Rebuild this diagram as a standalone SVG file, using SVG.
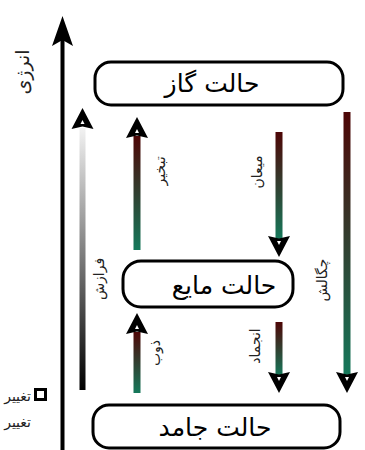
<svg xmlns="http://www.w3.org/2000/svg" width="365" height="450" viewBox="0 0 365 450">
  <defs>
    <linearGradient id="heat" x1="0" y1="0" x2="0" y2="1">
      <stop offset="0" stop-color="#4e0606"/>
      <stop offset="1" stop-color="#15795b"/>
    </linearGradient>
    <linearGradient id="gray" x1="0" y1="0" x2="0" y2="1">
      <stop offset="0" stop-color="#f2f2f2"/>
      <stop offset="1" stop-color="#000000"/>
    </linearGradient>
    <!-- arrowhead pointing up, tip at origin, with a small hole -->
    <path id="headUp" fill-rule="evenodd" d="M0,0 L11,21 L0,18.5 L-11,21 Z M0,12 L2,16 L-2,16 Z"/>
    <style>
      .state { fill: #ffffff; stroke: #000000; stroke-width: 3; }
      .stateText { font-family: "DejaVu Sans", sans-serif; font-size: 25px; fill: #000000; text-anchor: middle; }
      .lbl { font-family: "DejaVu Sans", sans-serif; font-size: 14px; fill: #222222; text-anchor: middle; }
      .legend { font-family: "DejaVu Sans", sans-serif; font-size: 14px; fill: #222222; text-anchor: end; }
      .head { fill: #000000; }
    </style>
  </defs>

  <rect width="365" height="450" fill="#ffffff"/>

  <!-- energy axis -->
  <g id="energy-axis">
    <rect x="60.5" y="40" width="4" height="410" fill="#000000"/>
    <path d="M62.5,16 L73,46 L62.5,40 L52,46 Z" fill="#000000"/>
    <text class="lbl" style="font-size:19px" transform="translate(29,72) rotate(-90)">انرژی</text>
  </g>

  <!-- states -->
  <g id="gas">
    <rect class="state" x="95" y="62" width="248" height="43" rx="16"/>
    <text class="stateText" x="212" y="92">حالت گاز</text>
  </g>
  <g id="liquid">
    <rect class="state" x="123" y="261" width="170" height="46" rx="18"/>
    <text class="stateText" x="224" y="294">حالت مایع</text>
  </g>
  <g id="solid">
    <rect class="state" x="93" y="405" width="247" height="43" rx="16"/>
    <text class="stateText" x="215" y="436">حالت جامد</text>
  </g>

  <!-- transitions -->
  <g id="connectors">
    <!-- sublimation (grey, up) -->
    <g id="sublimation">
      <rect x="79.5" y="128" width="6" height="262" fill="url(#gray)"/>
      <use href="#headUp" class="head" transform="translate(82.5,108)"/>
      <text class="lbl" transform="translate(104,279) rotate(-90)">فرازش</text>
    </g>
    <!-- evaporation (up) -->
    <g id="evaporation">
      <rect x="133.5" y="136" width="7" height="114" fill="url(#heat)"/>
      <use href="#headUp" class="head" transform="translate(137,117)"/>
      <text class="lbl" transform="translate(165,171) rotate(-90)">تبخیر</text>
    </g>
    <!-- melting (up) -->
    <g id="melting">
      <rect x="133.5" y="332" width="7" height="61" fill="url(#heat)"/>
      <use href="#headUp" class="head" transform="translate(137,313)"/>
      <text class="lbl" transform="translate(160,353) rotate(-90)">ذوب</text>
    </g>
    <!-- condensation (down) -->
    <g id="condensation">
      <rect x="275.5" y="132" width="7" height="108" fill="url(#heat)"/>
      <use href="#headUp" class="head" transform="translate(279,257) rotate(180)"/>
      <text class="lbl" transform="translate(262,172) rotate(-90)">میعان</text>
    </g>
    <!-- deposition (down) -->
    <g id="deposition">
      <rect x="343.5" y="112" width="7" height="264" fill="url(#heat)"/>
      <use href="#headUp" class="head" transform="translate(347,393) rotate(180)"/>
      <text class="lbl" transform="translate(327,280) rotate(-90)">چگالش</text>
    </g>
    <!-- freezing (down) -->
    <g id="freezing">
      <rect x="275.5" y="322" width="7" height="54" fill="url(#heat)"/>
      <use href="#headUp" class="head" transform="translate(279,393) rotate(180)"/>
      <text class="lbl" transform="translate(260,346) rotate(-90)">انجماد</text>
    </g>
  </g>

  <!-- legend -->
  <g id="legend">
    <rect x="35.5" y="389.5" width="10" height="10" fill="#ffffff" stroke="#000000" stroke-width="3"/>
    <text class="legend" x="31" y="401">تغییر</text>
    <text class="legend" x="31" y="427">تغییر</text>
  </g>
</svg>
